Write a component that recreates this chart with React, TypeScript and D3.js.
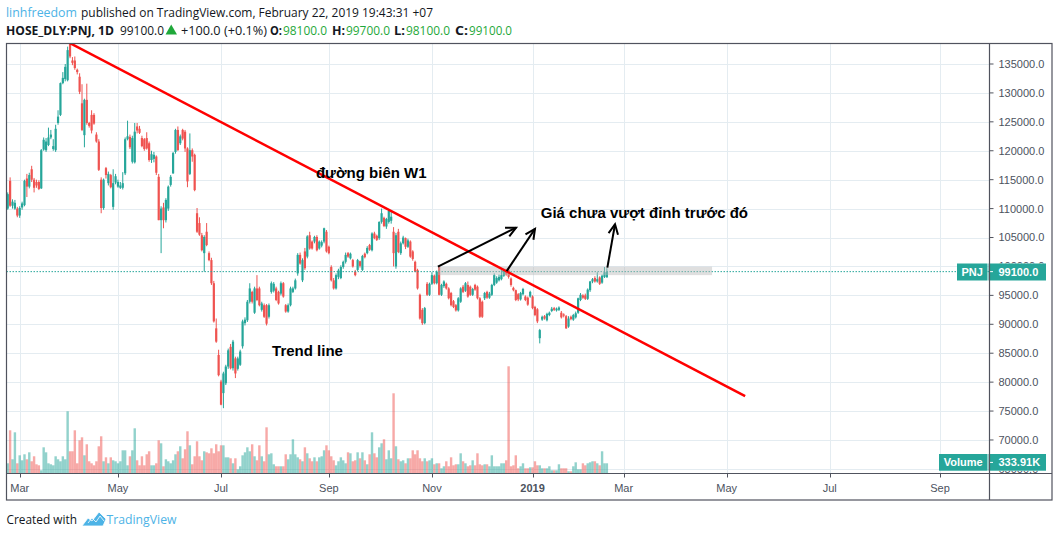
import React from "react";
import * as d3 from "d3";

// daily bars, HOSE:PNJ, 21 Feb 2018 .. 22 Feb 2019, prices in thousand VND: [open, high, low, close]
const ohlc: number[][] = [
  [111.8, 112.6, 109.5, 110.0], [110.0, 112.8, 109.8, 112.5], [114.8, 115.4, 110.3, 110.5], [110.5, 111.6, 110.0, 111.2],
  [110.0, 111.5, 109.8, 111.0], [110.0, 110.3, 108.5, 108.8], [108.8, 110.4, 108.4, 110.1], [110.2, 111.2, 109.8, 110.9],
  [110.6, 115.0, 110.4, 114.8], [115.2, 116.0, 112.0, 113.8], [113.8, 116.2, 113.5, 115.8], [116.8, 117.4, 114.6, 115.0],
  [115.0, 115.3, 112.8, 113.6], [114.6, 115.0, 113.6, 114.0], [114.6, 114.9, 113.2, 113.4], [113.5, 120.3, 113.4, 120.1],
  [120.2, 122.3, 120.0, 121.9], [120.1, 122.2, 119.8, 121.6], [121.0, 124.0, 120.8, 122.3], [122.3, 123.6, 122.0, 122.8],
  [120.3, 122.0, 120.0, 120.8], [120.1, 124.5, 119.8, 123.8], [124.8, 127.0, 124.5, 125.9], [126.2, 131.8, 126.0, 131.7],
  [131.7, 133.6, 131.5, 132.6], [132.4, 135.0, 132.0, 134.5], [132.2, 138.0, 132.0, 137.4], [138.6, 138.8, 136.0, 136.3],
  [135.6, 136.2, 134.8, 135.2], [135.6, 136.3, 134.0, 134.3], [134.0, 134.2, 133.2, 133.6], [132.8, 133.4, 129.8, 130.2],
  [128.2, 131.5, 123.4, 123.6], [122.7, 129.0, 120.6, 128.8], [128.8, 131.6, 124.5, 124.8], [124.8, 125.0, 124.0, 124.3],
  [126.2, 127.0, 123.0, 123.5], [126.2, 126.5, 124.5, 124.7], [122.8, 123.2, 121.4, 121.6], [121.6, 122.0, 116.5, 116.7],
  [115.0, 115.4, 109.2, 110.1], [110.1, 115.2, 109.8, 115.0], [117.0, 117.2, 115.2, 115.8], [114.4, 116.4, 114.0, 116.0],
  [115.8, 116.0, 113.5, 113.7], [110.3, 116.8, 109.8, 114.4], [114.5, 116.0, 114.2, 115.6], [113.8, 115.0, 113.6, 114.6],
  [113.6, 114.6, 113.4, 114.0], [113.6, 116.3, 113.3, 114.4], [116.1, 122.3, 115.8, 122.0], [122.0, 125.2, 121.8, 122.5],
  [122.4, 122.8, 120.3, 120.6], [118.1, 122.6, 117.8, 122.2], [118.0, 124.8, 117.8, 123.3], [124.2, 124.8, 123.0, 123.5],
  [123.8, 124.3, 122.9, 123.1], [122.2, 122.6, 120.6, 120.8], [122.0, 122.2, 120.0, 120.3], [122.2, 123.2, 120.2, 120.4],
  [121.3, 121.6, 118.1, 118.4], [118.4, 120.0, 117.9, 119.4], [118.6, 119.8, 118.0, 119.3], [119.0, 119.2, 115.8, 116.2],
  [115.5, 116.0, 108.0, 108.0], [108.0, 110.4, 102.3, 110.0], [110.2, 111.0, 106.6, 108.0], [108.0, 111.8, 107.6, 111.5],
  [110.0, 114.0, 109.6, 113.8], [114.1, 115.8, 113.8, 115.5], [116.1, 119.8, 116.0, 119.6], [119.8, 123.8, 119.5, 123.6],
  [123.6, 124.2, 120.0, 120.1], [121.3, 122.8, 121.0, 122.5], [123.6, 123.8, 121.8, 122.1], [123.3, 123.6, 119.8, 120.4],
  [120.4, 120.6, 113.7, 114.7], [116.0, 123.0, 115.8, 120.1], [120.1, 120.4, 118.1, 119.0], [119.3, 119.5, 113.0, 113.2],
  [109.2, 110.1, 105.8, 106.0], [107.5, 108.5, 105.3, 105.5], [105.4, 105.8, 102.6, 102.8], [102.3, 105.4, 99.1, 105.1],
  [106.0, 107.5, 103.5, 103.7], [102.3, 102.6, 100.9, 101.1], [101.1, 101.5, 96.8, 97.1], [97.1, 97.5, 90.3, 90.5],
  [89.3, 91.0, 86.8, 87.0], [84.7, 85.6, 81.0, 81.2], [80.1, 80.4, 76.0, 76.1], [78.1, 81.8, 75.5, 81.5],
  [79.8, 83.0, 79.5, 82.7], [82.7, 85.8, 82.3, 85.5], [86.1, 86.6, 82.2, 82.4], [82.4, 87.3, 82.0, 87.0],
  [84.1, 84.4, 80.7, 81.5], [82.3, 84.4, 82.0, 84.1], [83.0, 85.6, 82.8, 85.3], [86.2, 90.8, 85.8, 90.5],
  [90.2, 91.2, 89.8, 90.8], [90.7, 94.2, 90.4, 93.9], [93.9, 97.1, 93.6, 96.2], [95.6, 95.8, 93.6, 93.9],
  [92.0, 96.5, 91.8, 96.2], [96.2, 98.5, 94.0, 94.2], [96.2, 96.5, 93.1, 93.3], [92.5, 93.9, 92.2, 93.6],
  [93.3, 93.6, 91.1, 91.3], [93.3, 93.5, 89.8, 90.1], [91.3, 93.6, 91.0, 93.3], [95.6, 97.4, 95.3, 97.1],
  [95.8, 97.3, 95.5, 97.0], [96.2, 96.5, 94.0, 94.2], [95.6, 95.8, 93.4, 93.6], [95.3, 97.4, 95.0, 97.1],
  [97.1, 97.3, 94.6, 94.8], [93.3, 93.5, 92.0, 92.2], [92.2, 93.6, 92.0, 93.3], [93.3, 96.5, 93.1, 96.2],
  [95.6, 96.5, 95.4, 96.2], [96.2, 97.9, 96.0, 97.6], [98.8, 102.3, 98.4, 102.0], [102.0, 102.4, 100.3, 100.5],
  [97.6, 101.4, 97.3, 101.1], [102.6, 103.2, 99.4, 99.7], [101.7, 105.4, 101.4, 105.2], [105.4, 106.0, 102.9, 103.1],
  [104.3, 104.5, 102.9, 103.1], [104.3, 105.3, 104.0, 105.1], [105.1, 105.4, 102.6, 102.8], [103.1, 104.5, 102.9, 104.3],
  [103.6, 104.5, 103.3, 104.2], [104.3, 106.7, 104.0, 106.6], [106.0, 106.3, 102.4, 102.6], [103.4, 103.6, 102.1, 102.3],
  [99.9, 100.2, 97.4, 97.6], [97.6, 98.0, 96.0, 96.2], [96.2, 98.8, 96.0, 98.5], [98.2, 99.6, 97.8, 99.3],
  [98.0, 100.2, 97.8, 99.9], [99.9, 101.0, 99.6, 100.8], [100.8, 102.4, 100.5, 102.0], [102.3, 102.5, 101.5, 101.7],
  [101.4, 102.4, 101.2, 102.2], [101.1, 101.3, 99.8, 100.0], [99.1, 99.4, 98.3, 98.5], [99.4, 101.3, 99.2, 101.1],
  [100.9, 101.0, 99.8, 100.1], [99.4, 102.0, 99.2, 101.8], [102.2, 102.4, 101.4, 101.6], [102.3, 103.5, 102.1, 103.2],
  [103.7, 103.9, 102.7, 102.9], [102.8, 105.9, 102.6, 105.7], [105.7, 106.0, 104.7, 104.9], [105.3, 105.5, 104.4, 104.6],
  [104.9, 107.8, 104.6, 107.7], [107.7, 110.0, 107.4, 109.2], [108.4, 108.6, 106.8, 107.0], [106.9, 108.4, 106.5, 108.2],
  [107.7, 109.8, 107.4, 109.6], [107.9, 109.4, 107.4, 108.6], [106.0, 106.8, 100.0, 102.3], [100.0, 105.8, 99.6, 105.4],
  [106.0, 106.5, 102.3, 102.5], [102.3, 104.3, 102.0, 104.0], [104.0, 105.3, 103.8, 105.0], [104.9, 105.0, 103.0, 103.4],
  [103.4, 104.8, 103.2, 104.5], [104.3, 104.5, 101.5, 101.7], [102.6, 102.8, 101.0, 101.3], [100.8, 101.0, 99.0, 99.1],
  [99.4, 99.6, 96.0, 96.2], [95.1, 95.3, 90.8, 91.0], [92.5, 92.8, 89.9, 90.2], [90.2, 93.0, 90.0, 92.8],
  [97.0, 97.3, 94.9, 95.1], [95.1, 97.2, 94.9, 97.0], [97.0, 99.0, 96.8, 98.5], [98.4, 98.6, 96.9, 97.1],
  [97.1, 99.3, 96.9, 99.1], [99.9, 100.0, 95.0, 95.1], [95.1, 97.0, 94.9, 96.8], [96.6, 97.6, 96.3, 97.4],
  [97.0, 97.2, 96.0, 96.2], [96.2, 96.4, 94.3, 94.5], [95.4, 95.6, 93.1, 93.3], [94.0, 94.2, 92.8, 93.0],
  [93.3, 93.5, 92.2, 92.4], [92.4, 94.7, 92.2, 94.5], [93.9, 96.4, 93.7, 96.2], [96.5, 96.8, 95.4, 95.6],
  [95.8, 97.3, 95.6, 97.1], [96.8, 97.4, 94.6, 94.8], [96.5, 96.7, 94.9, 95.1], [95.1, 96.3, 94.9, 96.1],
  [96.8, 97.0, 95.8, 96.0], [96.5, 96.7, 94.3, 94.5], [94.5, 94.7, 91.1, 91.3], [93.9, 94.1, 91.1, 91.3],
  [94.5, 95.6, 94.2, 95.4], [95.6, 95.8, 94.4, 94.6], [94.6, 95.6, 94.4, 95.3], [95.1, 97.0, 94.9, 96.8],
  [96.8, 98.8, 96.6, 98.5], [97.2, 98.3, 97.0, 98.0], [97.6, 98.6, 97.4, 98.2], [97.8, 99.4, 97.6, 98.5],
  [98.4, 99.6, 98.2, 99.3], [99.4, 99.6, 98.4, 98.6], [99.4, 99.9, 97.9, 98.2], [97.9, 98.1, 96.5, 96.8],
  [96.3, 96.5, 95.7, 95.9], [95.9, 96.0, 94.0, 94.2], [95.2, 95.4, 94.0, 94.3], [94.3, 95.6, 94.1, 95.4],
  [95.2, 96.3, 95.0, 96.1], [94.8, 95.0, 94.0, 94.2], [94.6, 94.8, 93.2, 93.4], [94.8, 95.8, 94.6, 95.6],
  [94.8, 95.0, 92.6, 92.8], [93.0, 93.2, 91.4, 91.6], [92.6, 92.8, 90.2, 90.5], [87.6, 89.2, 86.7, 89.0],
  [90.8, 91.5, 90.6, 91.3], [91.4, 91.6, 90.8, 91.0], [90.7, 92.0, 90.5, 91.8], [91.6, 92.2, 91.4, 92.0],
  [92.3, 93.0, 92.1, 92.7], [92.8, 93.0, 92.3, 92.5], [92.4, 92.9, 92.2, 92.7], [92.5, 93.1, 92.3, 92.9],
  [92.0, 92.3, 91.0, 91.2], [91.7, 91.9, 91.2, 91.5], [91.4, 91.6, 89.2, 89.3], [89.6, 91.4, 89.4, 91.0],
  [91.3, 91.5, 90.7, 90.9], [90.8, 91.8, 90.6, 91.6], [91.2, 92.2, 91.0, 91.9], [92.0, 94.6, 91.8, 94.5],
  [94.2, 95.4, 94.0, 95.1], [95.0, 95.2, 94.4, 94.6], [95.0, 95.3, 94.2, 94.4], [94.4, 96.2, 94.2, 96.0],
  [95.9, 97.5, 95.6, 97.4], [97.4, 98.0, 97.1, 97.8], [98.0, 98.3, 97.2, 97.4], [97.4, 99.0, 97.2, 97.8],
  [98.1, 98.3, 96.8, 97.0], [97.2, 98.6, 97.0, 98.4], [98.2, 99.9, 98.0, 99.0], [98.1, 99.7, 98.1, 99.1],
];

// volume, thousand shares, same bars
const volumeK: number[] = [
  401, 334, 1436, 468, 1369, 334, 601, 434, 635, 468, 701, 401, 568, 301, 267, 100, 868, 701, 334, 301,
  267, 568, 468, 401, 568, 468, 2071, 735, 735, 1436, 334, 1102, 1202, 601, 969, 401, 334, 267, 401, 902,
  1236, 401, 534, 334, 534, 434, 401, 334, 401, 768, 768, 267, 568, 768, 1503, 434, 267, 568, 267, 635,
  735, 267, 267, 334, 1102, 1002, 234, 468, 401, 334, 434, 635, 735, 902, 501, 802, 1403, 935, 301, 568,
  1069, 568, 434, 735, 701, 668, 835, 668, 969, 735, 935, 935, 534, 534, 501, 334, 501, 134, 234, 601,
  701, 868, 735, 969, 568, 434, 935, 568, 401, 1536, 635, 668, 301, 234, 234, 234, 234, 635, 468, 635,
  1136, 635, 534, 468, 401, 868, 668, 501, 401, 534, 401, 534, 568, 768, 935, 768, 568, 434, 267, 401,
  534, 434, 334, 701, 668, 401, 434, 701, 501, 701, 434, 301, 635, 1369, 668, 534, 868, 1002, 1136, 468,
  768, 501, 2672, 902, 468, 401, 434, 334, 501, 501, 768, 635, 768, 501, 401, 501, 401, 434, 501, 301,
  334, 334, 167, 234, 401, 234, 534, 267, 301, 301, 668, 401, 334, 234, 267, 434, 267, 668, 301, 267,
  301, 301, 234, 601, 234, 234, 234, 334, 334, 434, 3574, 234, 267, 601, 167, 234, 334, 167, 167, 200,
  200, 401, 267, 267, 167, 167, 167, 234, 100, 100, 100, 301, 167, 167, 167, 67, 67, 234, 367, 134,
  134, 334, 267, 334, 367, 401, 401, 334, 267, 735, 334, 333.91,
];

// time axis: bar index of the first session of each month shown, and its label
const timeTickIndex = [6, 47, 90, 135, 178, 220, 258, 301, 344, 390];
const timeTickLabel = ["Mar", "May", "Jul", "Sep", "Nov", "2019", "Mar", "May", "Jul", "Sep"];
const priceTicks = [65, 70, 75, 80, 85, 90, 95, 100, 105, 110, 115, 120, 125, 130, 135];

const lastPrice = 99.1;
const lastVolumeLabel = "333.91K";

// drawings from the author, in (bar index, price)
const trendLine = [[27, 138.6], [308.7, 77.6]];
const arrows = [
  [[180.5, 99.96], [213.1, 106.7]],
  [[209.2, 99.2], [221.0, 106.5]],
  [[251.2, 99.8], [254.4, 107.3]],
];
const resistBand = { from: 180.5, to: 294.9, lo: 98.5, hi: 99.96 };
const notes = [
  { text: "đường biên W1", bar: 129.6, price: 115.3 },
  { text: "Giá chưa vượt đỉnh trước đó", bar: 223.4, price: 108.4 },
  { text: "Trend line", bar: 111.3, price: 84.5 },
];

const UP = "#26a69a";
const DOWN = "#ef5350";
const GRID = "#e4ecf1";
const FRAME = "#50535e";
const AXIS_TEXT = "#4c525e";
const LINK = "#4db3e6";
const GREEN = "#1fa83a";

const pane = { left: 6.5, top: 43.5, right: 989.5, bottom: 473.5 };

const App = () => {
  const x = d3.scaleLinear().domain([6, 390]).range([19.7, 940]);
  const y = d3.scaleLinear().domain([65, 135]).range([468.9, 64]);
  const yVol = d3.scaleLinear().domain([0, 3340]).range([473.3, 373.3]);
  const step = x(1) - x(0);
  const bodyW = 2.2;

  const font = "'Liberation Sans', Arial, sans-serif";
  const headFont = "'Open Sans', 'Noto Sans', sans-serif";

  const arrowHead = (x1: number, y1: number, x2: number, y2: number) => {
    const a = Math.atan2(y2 - y1, x2 - x1);
    const len = 11;
    const s = Math.PI / 7;
    const p1 = [x2 - len * Math.cos(a - s), y2 - len * Math.sin(a - s)];
    const p2 = [x2 - len * Math.cos(a + s), y2 - len * Math.sin(a + s)];
    return `M${p1[0]},${p1[1]}L${x2},${y2}L${p2[0]},${p2[1]}`;
  };

  const header1 = [
    { t: "linhfreedom", x: 6, w: 71, fill: LINK, bold: false },
    { t: "published on TradingView.com, February 22, 2019 19:43:31 +07", x: 81, w: 352, fill: "#131722", bold: false },
  ];
  const header2 = [
    { t: "HOSE_DLY:PNJ, 1D", x: 6, w: 108, fill: "#131722", bold: true },
    { t: "99100.0", x: 120, w: 44, fill: "#131722", bold: false },
    { t: "+100.0 (+0.1%)", x: 181, w: 86, fill: "#131722", bold: false },
    { t: "O:", x: 270, w: 12, fill: "#131722", bold: true },
    { t: "98100.0", x: 283, w: 44, fill: GREEN, bold: false },
    { t: "H:", x: 332, w: 13, fill: "#131722", bold: true },
    { t: "99700.0", x: 346, w: 44, fill: GREEN, bold: false },
    { t: "L:", x: 394, w: 11, fill: "#131722", bold: true },
    { t: "98100.0", x: 406, w: 44, fill: GREEN, bold: false },
    { t: "C:", x: 455, w: 13, fill: "#131722", bold: true },
    { t: "99100.0", x: 469, w: 43, fill: GREEN, bold: false },
  ];

  const yLast = y(lastPrice);
  // scale labels partly covered by the PNJ / Volume tags are clipped to their visible part
  const lastBox = { y0: Math.round(yLast) - 8.5, y1: Math.round(yLast) + 8.5 };
  const volBox = { y0: 454, y1: 470.7 };
  const hidden = (p: number) => {
    const yy = y(p);
    return (yy + 5 > lastBox.y0 && yy - 5 < lastBox.y1) || (yy + 5 > volBox.y0 && yy - 5 < volBox.y1);
  };

  return (
    <svg
      width={1059}
      height={537}
      style={{ position: "absolute", left: 0, top: 0, background: "#fff" }}
    >
      <defs>
        <clipPath id="pane">
          <rect x={pane.left + 0.5} y={pane.top + 0.5} width={pane.right - pane.left - 1} height={pane.bottom - pane.top - 1} />
        </clipPath>
        <clipPath id="axisClip">
          <rect x={pane.right} y={pane.top} width={63} height={pane.bottom - pane.top} />
        </clipPath>
        <clipPath id="axisPeek">
          <rect x={pane.right} y={pane.top} width={63} height={lastBox.y0 - pane.top} />
          <rect x={pane.right} y={lastBox.y1} width={63} height={volBox.y0 - lastBox.y1} />
          <rect x={pane.right} y={volBox.y1} width={63} height={pane.bottom - volBox.y1} />
        </clipPath>
      </defs>

      {/* header */}
      {header1.map((h, i) => (
        <text key={"h1" + i} x={h.x} y={17} fontFamily={headFont} fontSize={13} fill={h.fill}
          textLength={h.w} lengthAdjust="spacingAndGlyphs">{h.t}</text>
      ))}
      {header2.map((h, i) => (
        <text key={"h2" + i} x={h.x} y={34.5} fontFamily={headFont} fontSize={13} fontWeight={h.bold ? 700 : 400}
          fill={h.fill} textLength={h.w} lengthAdjust="spacingAndGlyphs">{h.t}</text>
      ))}
      <path d="M165.5,34.5L171.2,24.5L177,34.5Z" fill={GREEN} />

      {/* grid */}
      <g clipPath="url(#pane)">
        {priceTicks.map((p) => (
          <line key={"gy" + p} x1={pane.left} x2={pane.right} y1={Math.round(y(p)) + 0.5} y2={Math.round(y(p)) + 0.5} stroke={GRID} />
        ))}
        {timeTickIndex.map((t) => (
          <line key={"gx" + t} x1={Math.round(x(t)) + 0.5} x2={Math.round(x(t)) + 0.5} y1={pane.top} y2={pane.bottom} stroke={GRID} />
        ))}

        {/* volume */}
        {ohlc.map((d, i) => (
          <rect key={"v" + i} x={x(i) - step / 2} width={step} y={yVol(volumeK[i])}
            height={yVol(0) - yVol(volumeK[i])} fill={d[3] >= d[0] ? UP : DOWN} fillOpacity={0.5} />
        ))}

        {/* candles */}
        {ohlc.map((d, i) => {
          const [o, h, l, c] = d;
          const col = c >= o ? UP : DOWN;
          const top = y(Math.max(o, c));
          const bh = Math.max(1, Math.abs(y(o) - y(c)));
          return (
            <g key={"c" + i}>
              <line x1={x(i)} x2={x(i)} y1={y(h)} y2={y(l)} stroke={col} strokeWidth={1} />
              <rect x={x(i) - bodyW / 2} width={bodyW} y={top} height={bh} fill={col} />
            </g>
          );
        })}

        {/* last price line */}
        <line x1={pane.left} x2={pane.right} y1={yLast} y2={yLast} stroke={UP} strokeWidth={1} strokeDasharray="1.5,1.5" />

        {/* drawings */}
        <rect x={x(resistBand.from)} width={x(resistBand.to) - x(resistBand.from)} y={y(resistBand.hi)}
          height={y(resistBand.lo) - y(resistBand.hi)} fill="#b8b8b8" fillOpacity={0.45} />
        <line x1={x(trendLine[0][0])} y1={y(trendLine[0][1])} x2={x(trendLine[1][0])} y2={y(trendLine[1][1])}
          stroke="#ff0000" strokeWidth={2.5} />
        {arrows.map((a, i) => {
          const x1 = x(a[0][0]), y1 = y(a[0][1]), x2 = x(a[1][0]), y2 = y(a[1][1]);
          return (
            <g key={"a" + i} stroke="#000" strokeWidth={2} fill="none">
              <line x1={x1} y1={y1} x2={x2} y2={y2} />
              <path d={arrowHead(x1, y1, x2, y2)} />
            </g>
          );
        })}
        {notes.map((n, i) => (
          <text key={"n" + i} x={x(n.bar)} y={y(n.price)} fontFamily={font} fontSize={15} fontWeight={700} fill="#000">
            {n.text}
          </text>
        ))}
      </g>

      {/* price axis */}
      <g clipPath="url(#axisClip)">
        {priceTicks.map((p) => (
          <line key={"pt" + p} x1={pane.right} x2={pane.right + 4} y1={y(p)} y2={y(p)} stroke={FRAME} />
        ))}
        {priceTicks.filter((p) => !hidden(p)).map((p) => (
          <text key={"pl" + p} x={998.5} y={y(p)} dy="0.36em" fontFamily={font} fontSize={11} fill={AXIS_TEXT}>
            {d3.format(".1f")(p * 1000)}
          </text>
        ))}
      </g>
      <g clipPath="url(#axisPeek)">
        {priceTicks.filter((p) => hidden(p)).map((p) => (
          <text key={"ph" + p} x={998.5} y={y(p)} dy="0.36em" fontFamily={font} fontSize={11} fill={AXIS_TEXT}>
            {d3.format(".1f")(p * 1000)}
          </text>
        ))}
      </g>

      {/* time axis */}
      {timeTickIndex.map((t, i) => (
        <g key={"tx" + t}>
          <line x1={Math.round(x(t)) + 0.5} x2={Math.round(x(t)) + 0.5} y1={pane.bottom} y2={pane.bottom + 4} stroke={FRAME} />
          <text x={x(t)} y={492} textAnchor="middle" fontFamily={font} fontSize={11}
            fontWeight={timeTickLabel[i] === "2019" ? 700 : 400} fill={AXIS_TEXT}>
            {timeTickLabel[i]}
          </text>
        </g>
      ))}

      {/* tags on the price scale */}
      <rect x={957} y={lastBox.y0} width={30.5} height={17} fill={UP} />
      <text x={972.2} y={yLast} dy="0.36em" textAnchor="middle" fontFamily={font} fontSize={11} fontWeight={700} fill="#fff">PNJ</text>
      <rect x={988.5} y={lastBox.y0} width={57.5} height={17} fill={UP} />
      <line x1={989} x2={993} y1={yLast} y2={yLast} stroke="#fff" />
      <text x={998.5} y={yLast} dy="0.36em" fontFamily={font} fontSize={11} fontWeight={700} fill="#fff">
        {d3.format(".1f")(lastPrice * 1000)}
      </text>

      <rect x={939} y={volBox.y0} width={48.5} height={volBox.y1 - volBox.y0} fill={UP} />
      <text x={963.2} y={462.4} dy="0.36em" textAnchor="middle" fontFamily={font} fontSize={11} fontWeight={700} fill="#fff">Volume</text>
      <rect x={988.5} y={volBox.y0} width={57.5} height={volBox.y1 - volBox.y0} fill={UP} />
      <line x1={989} x2={993} y1={462.4} y2={462.4} stroke="#fff" />
      <text x={998.5} y={462.4} dy="0.36em" fontFamily={font} fontSize={11} fontWeight={700} fill="#fff">{lastVolumeLabel}</text>

      {/* frame */}
      <g stroke={FRAME} strokeWidth={1.2} fill="none">
        <rect x={pane.left} y={pane.top} width={1052 - pane.left} height={500 - pane.top} />
        <line x1={pane.right} x2={pane.right} y1={pane.top} y2={500} />
        <line x1={pane.left} x2={1052} y1={pane.bottom} y2={pane.bottom} />
      </g>

      {/* footer */}
      <text x={6.5} y={524} fontFamily={headFont} fontSize={13} fill="#131722" textLength={70.5} lengthAdjust="spacingAndGlyphs">
        Created with
      </text>
      <path d="M82,526 L88,518 L92,521 L99,512 L106,519 L103,526 Z M88,523 L92,518 L96,522 L100,516 L104,521"
        fill={LINK} stroke="#fff" strokeWidth={0.8} />
      <text x={106.5} y={524} fontFamily={headFont} fontSize={13} fill={LINK} textLength={70} lengthAdjust="spacingAndGlyphs">
        TradingView
      </text>
    </svg>
  );
};

export default App;
